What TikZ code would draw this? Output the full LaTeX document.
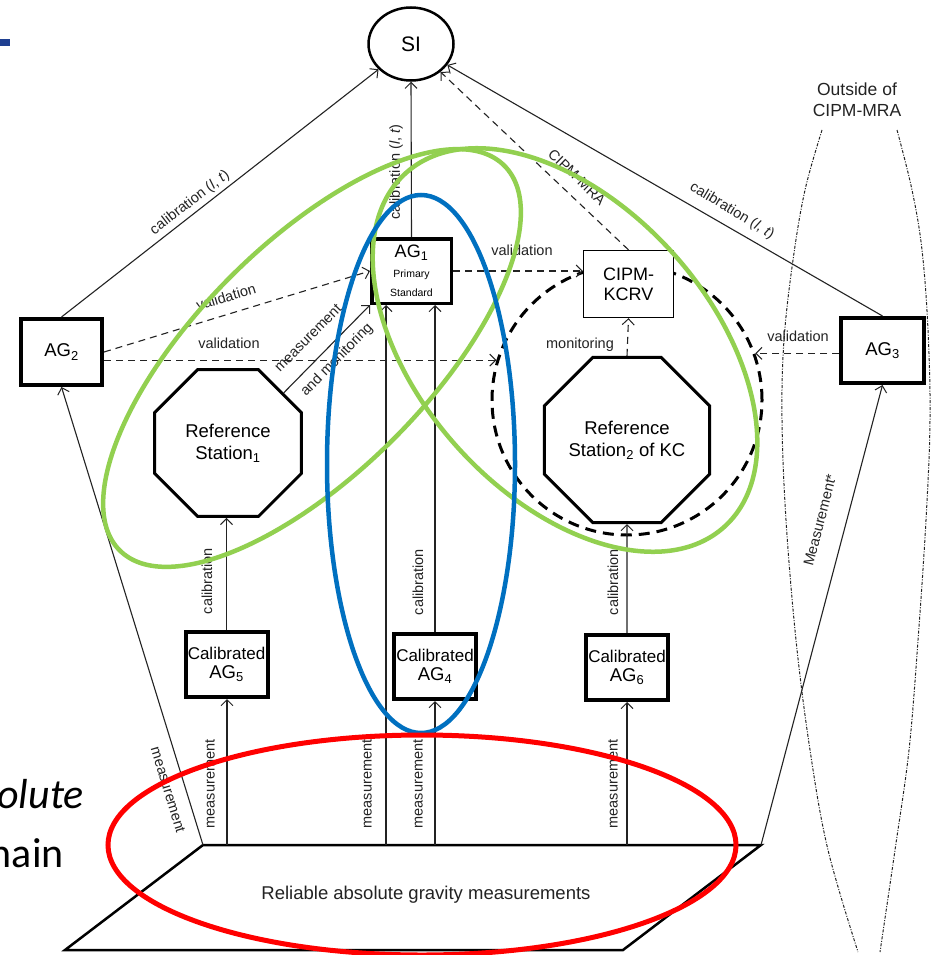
\documentclass[tikz,border=0pt]{standalone}
\usepackage{fontspec}
\setmainfont{Liberation Sans}
\newfontfamily\slidefont{Carlito}
\usetikzlibrary{shapes.geometric,arrows.meta}
\definecolor{ggreen}{RGB}{146,208,80}
\definecolor{gblue}{RGB}{0,112,192}
\definecolor{gred}{RGB}{255,0,0}
\definecolor{tabblue}{RGB}{31,64,145}
\definecolor{ink}{RGB}{35,35,35}
\begin{document}
\begin{tikzpicture}[x=1pt,y=-1pt,
  tipx/.style={-{Straight Barb[length=6pt,width=12pt,line width=1pt]}},
  conn/.style={draw=ink, line width=1.1pt, tipx},
  dconn/.style={conn, dash pattern=on 7pt off 5pt},
  lab/.style={font=\fontsize{14.5}{15}\selectfont, inner sep=0pt, text=ink},
  agbox/.style={draw, line width=4pt, fill=white, inner sep=0pt, align=center, font=\fontsize{18.5}{19}\selectfont},
  calbox/.style={agbox, minimum width=82pt, minimum height=65pt},
  octa/.style={draw, line width=3pt, fill=white, regular polygon, regular polygon sides=8, minimum size=159pt, inner sep=0pt, align=center, font=\fontsize{18.5}{22}\selectfont},
]
\useasboundingbox (0,0) rectangle (934,955);
\fill[white] (0,0) rectangle (934,955);
\fill[tabblue] (0,39) rectangle (10,46);

% slide text
\node[font=\slidefont\itshape\fontsize{42}{42}\selectfont, anchor=base east, inner sep=0pt] (t1) at (84,808) {olute};
\node[font=\slidefont\fontsize{42}{42}\selectfont, anchor=base east, inner sep=0pt] (t2) at (64,867) {nain};

% outside CIPM-MRA
\draw[ink, line width=1pt, dash pattern=on 3pt off 1.5pt on 1pt off 1.5pt]
  plot[smooth, tension=0.6] coordinates {(822,130) (805,190) (793,260) (784,340) (782,420) (786,520) (796,640) (810,750) (828,850) (858,952)};
\draw[ink, line width=1pt, dash pattern=on 3pt off 1.5pt on 1pt off 1.5pt]
  plot[smooth, tension=0.6] coordinates {(897,130) (912,190) (922,250) (928,330) (930,420) (926,520) (918,640) (909,750) (895,850) (880,952)};
\node[font=\fontsize{17.5}{21}\selectfont, align=center, text=ink] (out) at (857,100) {Outside of\\CIPM-MRA};

% base
\coordinate (pTL) at (203,845);
\coordinate (pTR) at (761,845);
\coordinate (pBR) at (623,950);
\coordinate (pBL) at (65,950);
\draw[line width=2.5pt, line join=miter] (pTL) -- (pTR) -- (pBR) -- (pBL) -- cycle;
\node[font=\fontsize{18.5}{19}\selectfont, text=ink] (base) at (426,895) {Reliable absolute gravity measurements};
\coordinate (m5) at (227,845);
\coordinate (m1) at (386,845);
\coordinate (m4) at (435,845);
\coordinate (m6) at (627,845);

% dashed KC circle
\node[circle, draw, line width=3pt, dash pattern=on 11pt off 7pt, minimum size=270pt, inner sep=0pt] (KC) at (627,400) {};

% nodes
\node[draw, ellipse, line width=2.5pt, fill=white, minimum width=85pt, minimum height=73pt, inner sep=0pt, font=\fontsize{21}{21}\selectfont] (SI) at (411,44) {SI};
\node[agbox, minimum width=81pt, minimum height=66pt] (AG2) at (61.5,352) {AG\textsubscript{2}};
\node[agbox, minimum width=83pt, minimum height=65pt] (AG3) at (882.5,350.5) {AG\textsubscript{3}};
\node[agbox, line width=3.5pt, minimum width=79.5pt, minimum height=64.5pt] (AG1) at (411.5,271)
  {{\fontsize{18}{18}\selectfont AG\textsubscript{1}}\\[1pt]{\fontsize{10.5}{15}\selectfont Primary}\\{\fontsize{10.5}{15}\selectfont Standard}};
\node[draw, line width=1.3pt, fill=white, minimum width=90pt, minimum height=67pt, inner sep=0pt, align=center, font=\fontsize{18}{20}\selectfont] (CIPM) at (628.5,284) {CIPM-\\KCRV};
\node[octa] (RS1) at (228,443) {Reference\\Station\textsubscript{1}};
\node[octa] (RS2) at (627,440) {Reference\\Station\textsubscript{2} of KC};
\node[calbox] (AG5) at (226.5,664.5) {{\fontsize{17}{19}\selectfont Calibrated}\\AG\textsubscript{5}};
\node[calbox] (AG4) at (435,666.5) {{\fontsize{17}{19}\selectfont Calibrated}\\AG\textsubscript{4}};
\node[calbox] (AG6) at (627,667.5) {{\fontsize{17}{19}\selectfont Calibrated}\\AG\textsubscript{6}};

% connectors
\draw[conn] (m5) -- (m5 |- AG5.south);
\draw[conn] (AG5.north) -- (AG5.north |- RS1.south);
\draw[conn] (m1) -- (m1 |- AG1.south);
\draw[conn] (m4) -- (AG4.south);
\draw[conn] (AG4.north) -- (AG4.north |- AG1.south);
\draw[conn] (m6) -- (AG6.south);
\draw[conn] (AG6.north) -- (RS2.south);
\draw[conn] (pTL) -- (AG2.south);
\draw[conn] (pTR) -- (AG3.south);
\draw[conn] (AG2.north) -- (SI);
\draw[conn] (AG3.north) -- (SI);
\draw[conn] (AG1.north) -- (SI.south);
\draw[dconn] (CIPM.north) -- (SI);
\draw[dconn] (AG1.east) -- (AG1.east -| CIPM.west);
\draw[dconn] (AG2.east) -- (AG1.west);
\draw[dconn] (AG2.east |- KC.163) -- (KC.163);
\draw[dconn] (AG3.west |- KC.20) -- (KC.20);
\draw[dconn] (RS2.north) -- (CIPM.south);
\draw[conn] (RS1.42) -- (AG1.south west);

% labels
\node[lab, rotate=90] (l1) at (396,172) {calibration (\textit{l}, \textit{t})};
\node[lab, rotate=37.6] (l2) at (190,203) {calibration (\textit{l}, \textit{t})};
\node[lab, rotate=-31] (l3) at (732,211) {calibration (\textit{l}, \textit{t})};
\node[lab, rotate=-44] (l4) at (577,177) {CIPM-MRA};
\node[lab, rotate=17] (l5) at (226,297) {validation};
\node[lab] (l6) at (229,343) {validation};
\node[lab] (l7) at (522,250) {validation};
\node[lab] (l8) at (798,336) {validation};
\node[lab] (l9) at (580,345) {monitoring};
\node[lab, rotate=45.5] (l10) at (308,338) {measurement};
\node[lab, rotate=45.5] (l11) at (337,360) {and monitoring};
\node[lab, rotate=90] (c5) at (207,581) {calibration};
\node[lab, rotate=90] (c4) at (418,582) {calibration};
\node[lab, rotate=90] (c6) at (613,582) {calibration};
\node[lab, rotate=90] (ms5) at (210,784) {measurement};
\node[lab, rotate=90] (ms1) at (367,784) {measurement};
\node[lab, rotate=90] (ms4) at (418,784) {measurement};
\node[lab, rotate=90] (ms6) at (613,784) {measurement};
\node[lab, rotate=-73] (ms2) at (168,790) {measurement};
\node[lab, rotate=75.5] (ms3) at (820,520) {Measurement*};

% highlight ellipses
\draw[ggreen, line width=4.5pt, rotate around={45:(312,358)}] (312,358) ellipse [x radius=272pt, y radius=115pt];
\draw[ggreen, line width=4.5pt, rotate around={-48:(565,350)}] (565,350) ellipse [x radius=238pt, y radius=145pt];
\draw[gblue, line width=4.5pt] (421,464) ellipse [x radius=94pt, y radius=269pt];
\draw[gred, line width=5pt] (422,845) ellipse [x radius=314pt, y radius=110pt];
\end{tikzpicture}
\end{document}
